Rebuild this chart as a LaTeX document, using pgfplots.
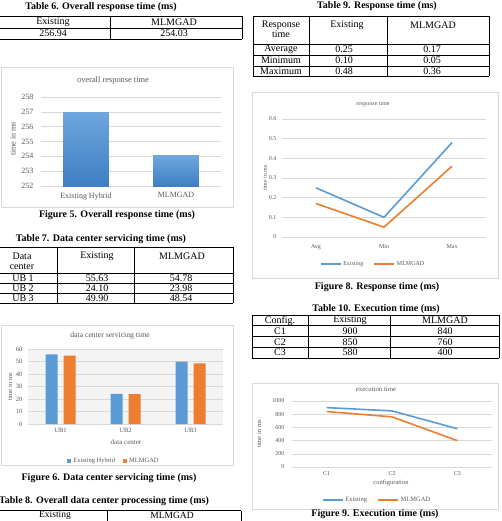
\documentclass[border=0pt]{standalone}
\usepackage{fontspec}
\setmainfont{Liberation Serif}
\usepackage{pgfplots}
\pgfplotsset{compat=1.18}
\definecolor{xblue}{HTML}{5B9BD5}
\definecolor{xorange}{HTML}{ED7D31}
\definecolor{xgray}{HTML}{595959}
\definecolor{xgrid}{HTML}{D9D9D9}
\definecolor{xbox}{HTML}{D9D9D9}
\definecolor{btop}{HTML}{6EA6DE}
\definecolor{bbot}{HTML}{3F7EC4}
\newcommand\capf{\fontsize{10}{12}\selectfont\bfseries}
\newcommand\tabf{\fontsize{10}{12}\selectfont}
\pgfplotsset{
  excel/.style={
    scale only axis,
    anchor=south west,
    axis line style={draw=none},
    major tick length=0pt,
    ymajorgrids,
    grid style={xgrid, line width=0.6pt},
    tick label style={text=xgray},
    /pgf/number format/assume math mode=true,
    /pgf/number format/1000 sep={},
    legend cell align=left,
    legend columns=2,
    legend style={draw=none, fill=none, text=xgray, anchor=center,
      /tikz/every even column/.append style={column sep=8pt}},
  }
}
\begin{document}
\begin{tikzpicture}
\useasboundingbox (0pt,0pt) rectangle (501pt,-521pt);
\clip (0pt,0pt) rectangle (501pt,-521pt);
\fill[white] (0pt,0pt) rectangle (501pt,-521pt);

%% ---------------- LEFT COLUMN ----------------
\node[font=\capf] at (101pt,-7pt) {Table 6. Overall response time (ms)};
\begin{scope}[line width=0.7pt]
\draw (-5pt,-16pt) -- (242pt,-16pt);
\draw (-5pt,-28pt) -- (242pt,-28pt);
\draw (-5pt,-39.5pt) -- (242pt,-39.5pt);
\draw (110pt,-16pt) -- (110pt,-39.5pt);
\draw (242pt,-16pt) -- (242pt,-39.5pt);
\end{scope}
\node[font=\tabf] at (53pt,-22pt) {Existing};
\node[font=\tabf] at (174pt,-22pt) {MLMGAD};
\node[font=\tabf] at (53pt,-33.7pt) {256.94};
\node[font=\tabf] at (174pt,-33.7pt) {254.03};

% Figure 5 chart
\draw[xbox, line width=0.6pt] (1pt,-67pt) rectangle (233pt,-207pt);
\node[font=\fontsize{8.4}{10}\selectfont, text=xgray] at (113pt,-80pt) {overall response time};
\node[font=\fontsize{8}{10}\selectfont, text=xgray, rotate=90] at (13pt,-139pt) {time in ms};
\begin{axis}[excel, at={(41pt,-186pt)}, width=180pt, height=89pt,
  xmin=-0.5, xmax=1.5, ymin=252, ymax=258, ytick={252,253,254,255,256,257,258},
  xtick={0,1}, xticklabels={Existing Hybrid, MLMGAD},
  tick label style={font=\fontsize{8}{10}\selectfont},
  yticklabel style={xshift=-4pt}, xticklabel style={yshift=-3pt}]
\addplot[draw=none, top color=btop, bottom color=bbot] coordinates {(-0.255,252) (-0.255,256.94) (0.255,256.94) (0.255,252)} -- cycle;
\addplot[draw=none, top color=btop, bottom color=bbot] coordinates {(0.745,252) (0.745,254.03) (1.255,254.03) (1.255,252)} -- cycle;
\end{axis}
\node[font=\capf] at (117pt,-215pt) {Figure 5. Overall response time (ms)};

\node[font=\capf] at (101pt,-239pt) {Table 7. Data center servicing time (ms)};
\begin{scope}[line width=0.7pt]
\foreach \yy in {247,273,283,293,303} {\draw (-5pt,-\yy pt) -- (233pt,-\yy pt);}
\foreach \xx in {57,134,233} {\draw (\xx pt,-247pt) -- (\xx pt,-303pt);}
\end{scope}
\node[font=\tabf] at (22pt,-256pt) {Data};
\node[font=\tabf] at (22pt,-266.5pt) {center};
\node[font=\tabf] at (97pt,-256pt) {Existing};
\node[font=\tabf] at (182pt,-256pt) {MLMGAD};
\node[font=\tabf] at (23pt,-278.5pt) {UB 1};
\node[font=\tabf] at (23pt,-288.5pt) {UB 2};
\node[font=\tabf] at (23pt,-298.5pt) {UB 3};
\node[font=\tabf] at (97pt,-278.5pt) {55.63};
\node[font=\tabf] at (97pt,-288.5pt) {24.10};
\node[font=\tabf] at (97pt,-298.5pt) {49.90};
\node[font=\tabf] at (181pt,-278.5pt) {54.78};
\node[font=\tabf] at (181pt,-288.5pt) {23.98};
\node[font=\tabf] at (181pt,-298.5pt) {48.54};

% Figure 6 chart
\draw[xbox, line width=0.6pt] (1pt,-325pt) rectangle (233pt,-465pt);
\node[font=\fontsize{7.7}{9}\selectfont, text=xgray] at (110pt,-336pt) {data center servicing time};
\node[font=\fontsize{6.5}{8}\selectfont, text=xgray, rotate=90] at (10pt,-387pt) {time in ms};
\node[font=\fontsize{7}{8}\selectfont, text=xgray] at (126pt,-442pt) {data center};
\begin{axis}[excel, at={(28pt,-424pt)}, width=195pt, height=75pt,
  ybar=6pt, bar width=12pt,
  xmin=-0.5, xmax=2.5, ymin=0, ymax=60, ytick={0,10,20,30,40,50,60},
  xtick={0,1,2}, xticklabels={UB1,UB2,UB3},
  axis background/.style={fill=gray!9},
  tick label style={font=\fontsize{6.5}{8}\selectfont},
  yticklabel style={xshift=-2pt}, xticklabel style={yshift=-1pt},
  legend style={at={(0.441,-0.493)}, font=\fontsize{6.5}{8}\selectfont,
    /tikz/every even column/.append style={column sep=6pt}}]
\addplot[fill=xblue, draw=none, legend image code/.code={\fill[xblue] (0pt,-2pt) rectangle (4pt,2pt);}] coordinates {(0,55.63) (1,24.10) (2,49.90)};
\addplot[fill=xorange, draw=none, legend image code/.code={\fill[xorange] (0pt,-2pt) rectangle (4pt,2pt);}] coordinates {(0,54.78) (1,23.98) (2,48.54)};
\legend{Existing Hybrid, MLMGAD}
\end{axis}
\node[font=\capf] at (109pt,-478pt) {Figure 6. Data center servicing time (ms)};

\node[font=\capf] at (104pt,-501.5pt) {Table 8. Overall data center processing time (ms)};
\begin{scope}[line width=0.7pt]
\draw (-5pt,-510.5pt) -- (241pt,-510.5pt);
\draw (107pt,-510.5pt) -- (107pt,-530pt);
\draw (241pt,-510.5pt) -- (241pt,-530pt);
\end{scope}
\node[font=\fontsize{9.5}{11}\selectfont] at (55pt,-515.5pt) {Existing};
\node[font=\fontsize{9.5}{11}\selectfont] at (172pt,-515.5pt) {MLMGAD};

%% ---------------- RIGHT COLUMN ----------------
\node[font=\capf] at (377pt,-6.5pt) {Table 9. Response time (ms)};
\begin{scope}[line width=0.7pt]
\foreach \yy in {16,44,55,66,76.5} {\draw (253pt,-\yy pt) -- (489pt,-\yy pt);}
\foreach \xx in {253,309,387,489} {\draw (\xx pt,-16pt) -- (\xx pt,-76.5pt);}
\end{scope}
\node[font=\tabf] at (281pt,-25pt) {Response};
\node[font=\tabf] at (281pt,-34.5pt) {time};
\node[font=\tabf] at (347pt,-25pt) {Existing};
\node[font=\tabf] at (433pt,-25pt) {MLMGAD};
\node[font=\tabf] at (281pt,-49.5pt) {Average};
\node[font=\tabf] at (281pt,-60.3pt) {Minimum};
\node[font=\tabf] at (281pt,-71pt) {Maximum};
\node[font=\tabf] at (344pt,-49.5pt) {0.25};
\node[font=\tabf] at (344pt,-60.3pt) {0.10};
\node[font=\tabf] at (344pt,-71pt) {0.48};
\node[font=\tabf] at (432pt,-49.5pt) {0.17};
\node[font=\tabf] at (432pt,-60.3pt) {0.05};
\node[font=\tabf] at (432pt,-71pt) {0.36};

% Figure 8 chart
\draw[xbox, line width=0.6pt] (252pt,-92pt) rectangle (498pt,-278pt);
\node[font=\fontsize{6}{7}\selectfont, text=xgray] at (373pt,-104pt) {response time};
\node[font=\fontsize{6}{7}\selectfont, text=xgray, rotate=90] at (265pt,-178pt) {time in ms};
\begin{axis}[excel, at={(282pt,-237pt)}, width=204pt, height=118pt,
  xmin=-0.5, xmax=2.5, ymin=0, ymax=0.6, ytick={0,0.1,0.2,0.3,0.4,0.5,0.6},
  xtick={0,1,2}, xticklabels={Avg,Min,Max},
  tick label style={font=\fontsize{6}{7}\selectfont},
  yticklabel style={xshift=-2pt}, xticklabel style={yshift=-4pt},
  legend image code/.code={\draw[#1] (0pt,0pt) -- (20pt,0pt);},
  legend style={at={(0.446,-0.229)}, font=\fontsize{6}{7}\selectfont}]
\addplot[xblue, line width=1.6pt] coordinates {(0,0.25) (1,0.10) (2,0.48)};
\addplot[xorange, line width=1.6pt] coordinates {(0,0.17) (1,0.05) (2,0.36)};
\legend{Existing, MLMGAD}
\end{axis}
\node[font=\capf] at (377pt,-287pt) {Figure 8. Response time (ms)};

\node[font=\capf] at (376pt,-309.5pt) {Table 10. Execution time (ms)};
\begin{scope}[line width=0.7pt]
\foreach \yy in {315,325.7,336.7,347.3,358} {\draw (252pt,-\yy pt) -- (499pt,-\yy pt);}
\foreach \xx in {252,308,390,499} {\draw (\xx pt,-315pt) -- (\xx pt,-358pt);}
\end{scope}
\node[font=\tabf] at (280pt,-320.7pt) {Config.};
\node[font=\tabf] at (350pt,-320.7pt) {Existing};
\node[font=\tabf] at (445pt,-320.7pt) {MLMGAD};
\node[font=\tabf] at (280pt,-331.5pt) {C1};
\node[font=\tabf] at (280pt,-342.2pt) {C2};
\node[font=\tabf] at (280pt,-352.7pt) {C3};
\node[font=\tabf] at (350pt,-331.5pt) {900};
\node[font=\tabf] at (350pt,-342.2pt) {850};
\node[font=\tabf] at (350pt,-352.7pt) {580};
\node[font=\tabf] at (445pt,-331.5pt) {840};
\node[font=\tabf] at (445pt,-342.2pt) {760};
\node[font=\tabf] at (445pt,-352.7pt) {400};

% Figure 9 chart
\draw[xbox, line width=0.6pt] (252pt,-383pt) rectangle (498pt,-509pt);
\node[font=\fontsize{6.8}{8}\selectfont, text=xgray] at (376pt,-389pt) {execution time};
\node[font=\fontsize{6.5}{8}\selectfont, text=xgray, rotate=90] at (259pt,-434pt) {time in ms};
\node[font=\fontsize{6.5}{8}\selectfont, text=xgray] at (391pt,-483pt) {configuration};
\begin{axis}[excel, at={(292pt,-467pt)}, width=200pt, height=66pt,
  xmin=-0.53, xmax=2.53, ymin=0, ymax=1000, ytick={0,200,400,600,800,1000},
  xtick={0,1,2}, xticklabels={C1,C2,C3},
  tick label style={font=\fontsize{6}{7}\selectfont},
  yticklabel style={xshift=-4pt}, xticklabel style={yshift=-1pt},
  legend image code/.code={\draw[#1] (0pt,0pt) -- (20pt,0pt);},
  legend style={at={(0.425,-0.5)}, font=\fontsize{6.5}{8}\selectfont}]
\addplot[xblue, line width=1.6pt] coordinates {(0,900) (1,850) (2,580)};
\addplot[xorange, line width=1.6pt] coordinates {(0,840) (1,760) (2,400)};
\legend{Existing, MLMGAD}
\end{axis}
\node[font=\capf] at (375pt,-514.5pt) {Figure 9. Execution time (ms)};
\end{tikzpicture}
\end{document}
